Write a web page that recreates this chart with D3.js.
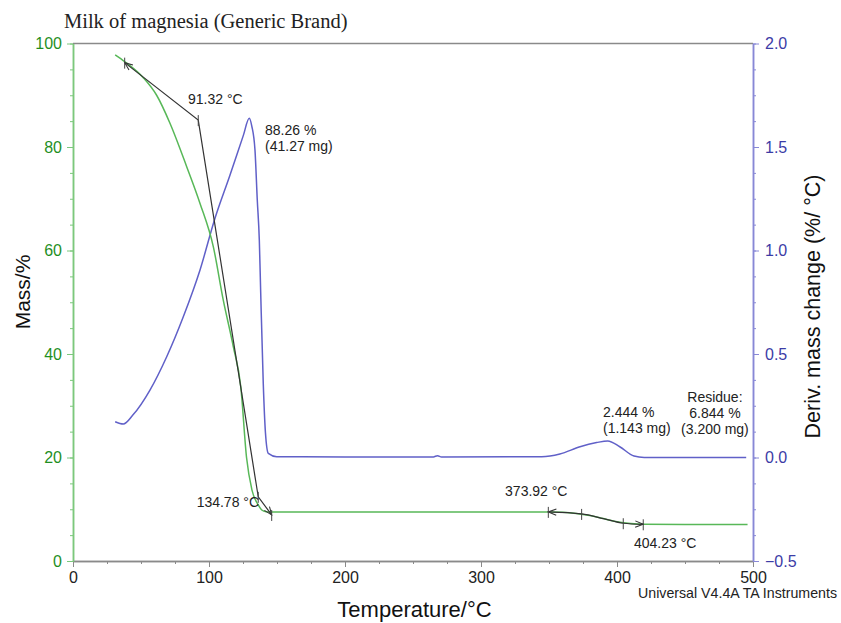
<!DOCTYPE html>
<html>
<head>
<meta charset="utf-8">
<script src="https://cdn.jsdelivr.net/npm/d3@7"></script>
<style>
  body { margin: 0; background: #fff; }
</style>
</head>
<body>
<svg id="chart" width="841" height="623"></svg>
<script>
// TGA mass curve (% vs °C)
const massTemp = [31, 38, 52, 61.5, 71.3, 83.6, 93.4, 103.2, 110.5, 117.9, 123.4, 127.6, 131.6, 136.3, 138.8, 142, 145,
                  200, 300, 350, 360, 370, 380, 390, 400, 410, 420, 496];
const massPct  = [97.8, 96.5, 93.3, 90.0, 84.6, 76.2, 69.1, 60.7, 50.4, 41.4, 33.6, 20.0, 13.7, 10.8, 9.86, 9.5, 9.45,
                  9.45, 9.45, 9.45, 9.4, 9.2, 8.8, 8.2, 7.6, 7.25, 7.1, 7.05];

// derivative curve (%/°C)
const derivTemp = [31, 37, 44, 56.6, 68.9, 81.1, 93.4, 104.4, 115.4, 125.2, 129.6, 131.5, 133.8, 135.5, 137, 138, 139.9, 141.5, 143.6, 149.8,
                   200, 265, 268, 271, 344.6, 358, 372.8, 385, 393.2, 402, 412.5, 420, 495];
const derivVal  = [0.173, 0.162, 0.205, 0.326, 0.487, 0.68, 0.906, 1.156, 1.364, 1.555, 1.639, 1.60, 1.486, 1.244, 1.05, 0.8, 0.358, 0.12, 0.02, 0.004,
                   0.003, 0.003, 0.009, 0.002, 0.004, 0.017, 0.052, 0.072, 0.08, 0.052, 0.007, 0.0, 0.0];

// onset / endset construction lines
const step1Temp = [38, 92.1, 136.2, 146.1];
const step1Mass = [96.3, 85.2, 12.4, 8.9];
const step2Temp = [349.5, 374, 390, 404.6, 419.3];
const step2Mass = [9.49, 9.1, 8.2, 7.3, 7.09];
const step2Ticks = [0, 1, 3, 4];

// tick values
const massTicks = [0, 20, 40, 60, 80, 100];
const derivTicks = [-0.5, 0.0, 0.5, 1.0, 1.5, 2.0];
const tempTicks = [0, 100, 200, 300, 400, 500];

// annotations anchored in (°C, mass %) units
const notes = [
  { t: 84.6, m: 88.3, lines: ["91.32 °C"], anchor: "start" },
  { t: 141.2, m: 82.3, lines: ["88.26 %", "(41.27 mg)"], anchor: "start" },
  { t: 136.8, m: 10.4, lines: ["134.78 °C"], anchor: "end" },
  { t: 317.7, m: 12.6, lines: ["373.92 °C"], anchor: "start" },
  { t: 412.5, m: 2.45, lines: ["404.23 °C"], anchor: "start" },
  { t: 389.7, m: 27.77, lines: ["2.444 %", "(1.143 mg)"], anchor: "start" },
  { t: 472, m: 30.72, lines: ["Residue:", "6.844 %", "(3.200 mg)"], anchor: "middle" }
];

const sans = "'Liberation Sans', Arial, Helvetica, sans-serif";
const svg = d3.select("#chart").style("font-family", sans);
const plotLeft = 73, plotRight = 753, plotTop = 43.5, plotBottom = 561;

const x = d3.scaleLinear().domain([0, 500]).range([plotLeft, plotRight]);
const yMass = d3.scaleLinear().domain([0, 100]).range([plotBottom, plotTop]);
const yDeriv = d3.scaleLinear().domain([-0.5, 2.0]).range([plotBottom, plotTop]);

const green = "#58b858", greenText = "#1f8f1f";
const blue = "#6060c8", blueText = "#3c3ca6";

// frame top
svg.append("line")
  .attr("x1", plotLeft).attr("x2", plotRight).attr("y1", plotTop).attr("y2", plotTop)
  .attr("stroke", "#8a8a8a").attr("stroke-width", 1.5);

function styleAxis(g, lineColor, textColor) {
  g.selectAll("path").attr("stroke", lineColor).attr("stroke-width", 1.5);
  g.selectAll("line").attr("stroke", lineColor);
  g.selectAll("text").attr("fill", textColor).style("font-size", "16px").style("font-family", sans);
}

// x axis
const xAxis = svg.append("g").attr("transform", `translate(0,${plotBottom})`);
xAxis.call(d3.axisBottom(x).tickValues(d3.range(0, 501, 25)).tickFormat("").tickSize(3).tickSizeOuter(0));
xAxis.call(g => g.append("g").call(d3.axisBottom(x).tickValues(tempTicks).tickSize(6).tickPadding(5).tickSizeOuter(0)));
styleAxis(xAxis, "#8a8a8a", "#222");

// left axis
const yAxisL = svg.append("g").attr("transform", `translate(${plotLeft},0)`);
yAxisL.call(d3.axisLeft(yMass).tickValues(d3.range(0, 101, 5)).tickFormat("").tickSize(3).tickSizeOuter(0));
yAxisL.call(g => g.append("g").call(d3.axisLeft(yMass).tickValues(massTicks).tickSize(6).tickPadding(5).tickSizeOuter(0)));
styleAxis(yAxisL, "#7cc87c", greenText);

// right axis
const yAxisR = svg.append("g").attr("transform", `translate(${plotRight},0)`);
yAxisR.call(d3.axisRight(yDeriv).tickValues(d3.range(-0.5, 2.001, 0.125)).tickFormat("").tickSize(3).tickSizeOuter(0));
yAxisR.call(g => g.append("g").call(d3.axisRight(yDeriv).tickValues(derivTicks).tickFormat(d3.format(".1f")).tickSize(6).tickPadding(6).tickSizeOuter(0)));
styleAxis(yAxisR, "#8888d6", blueText);

// arrow marker
svg.append("defs").append("marker")
  .attr("id", "arrow").attr("viewBox", "0 0 10 10")
  .attr("refX", 10).attr("refY", 5)
  .attr("markerWidth", 10).attr("markerHeight", 8)
  .attr("markerUnits", "userSpaceOnUse")
  .attr("orient", "auto-start-reverse")
  .append("path").attr("d", "M0,1 L10,5 L0,9")
  .attr("fill", "none").attr("stroke", "#333").attr("stroke-width", 1.3);

// derivative curve
const derivLine = d3.line().x(d => x(d[0])).y(d => yDeriv(d[1])).curve(d3.curveMonotoneX);
svg.append("path")
  .datum(d3.zip(derivTemp, derivVal))
  .attr("d", derivLine)
  .attr("fill", "none").attr("stroke", blue).attr("stroke-width", 1.5);

// mass curve
const massLine = d3.line().x(d => x(d[0])).y(d => yMass(d[1])).curve(d3.curveMonotoneX);
svg.append("path")
  .datum(d3.zip(massTemp, massPct))
  .attr("d", massLine)
  .attr("fill", "none").attr("stroke", green).attr("stroke-width", 1.5);

// construction lines
const s1 = d3.zip(step1Temp, step1Mass);
svg.append("path")
  .datum(s1)
  .attr("d", d3.line().x(d => x(d[0])).y(d => yMass(d[1])))
  .attr("fill", "none").attr("stroke", "#333").attr("stroke-width", 1.2)
  .attr("marker-start", "url(#arrow)").attr("marker-end", "url(#arrow)");
const s2 = d3.zip(step2Temp, step2Mass);
svg.append("path")
  .datum(s2)
  .attr("d", massLine)
  .attr("fill", "none").attr("stroke", "#333").attr("stroke-width", 1.2)
  .attr("marker-start", "url(#arrow)").attr("marker-end", "url(#arrow)");

const tickPts = s1.concat(step2Ticks.map(i => s2[i]));
svg.append("g").selectAll("line")
  .data(tickPts)
  .join("line")
  .attr("x1", d => x(d[0])).attr("x2", d => x(d[0]))
  .attr("y1", d => yMass(d[1]) - 5).attr("y2", d => yMass(d[1]) + 6)
  .attr("stroke", "#444").attr("stroke-width", 1);

// annotations
const noteG = svg.append("g").style("font-size", "14px").attr("fill", "#222");
notes.forEach(n => {
  const t = noteG.append("text")
    .attr("x", x(n.t)).attr("y", yMass(n.m))
    .attr("text-anchor", n.anchor);
  n.lines.forEach((s, i) => {
    t.append("tspan").attr("x", x(n.t)).attr("dy", i === 0 ? 0 : 15.8).text(s);
  });
});

// titles
svg.append("text")
  .attr("x", 64).attr("y", 28)
  .style("font-family", "'Liberation Serif', 'Times New Roman', serif")
  .style("font-size", "20.5px").attr("fill", "#222")
  .text("Milk of magnesia (Generic Brand)");

svg.append("text")
  .attr("transform", "translate(30,292) rotate(-90)")
  .attr("text-anchor", "middle")
  .style("font-size", "21px").attr("fill", "#111")
  .text("Mass/%");

svg.append("text")
  .attr("transform", "translate(820,306.5) rotate(-90)")
  .attr("text-anchor", "middle")
  .style("font-size", "21.5px").attr("fill", "#111")
  .text("Deriv. mass change (%/ °C)");

svg.append("text")
  .attr("x", 414.5).attr("y", 617)
  .attr("text-anchor", "middle")
  .style("font-size", "22px").attr("fill", "#111")
  .text("Temperature/°C");

svg.append("text")
  .attr("x", 837).attr("y", 598)
  .attr("text-anchor", "end")
  .style("font-size", "14.2px").attr("fill", "#222")
  .text("Universal V4.4A TA Instruments");
</script>
</body>
</html>
